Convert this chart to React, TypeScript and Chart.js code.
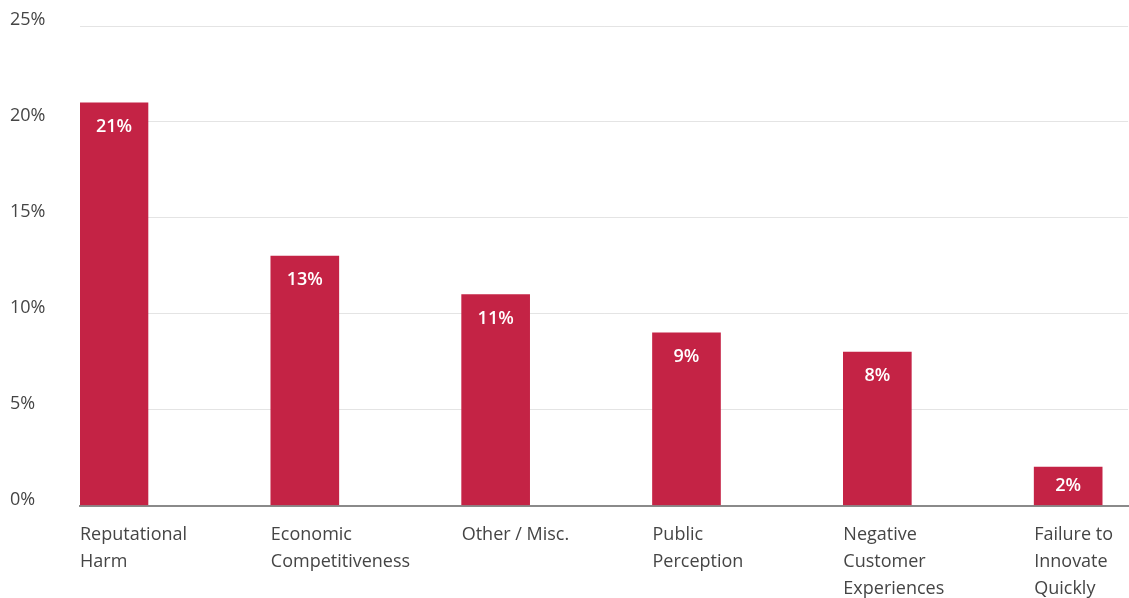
import React, { useEffect, useRef } from "react";
import { Chart, registerables } from "chart.js";

Chart.register(...registerables);

const categories: string[][] = [
  ["Reputational", "Harm"],
  ["Economic", "Competitiveness"],
  ["Other / Misc."],
  ["Public", "Perception"],
  ["Negative", "Customer", "Experiences"],
  ["Failure to", "Innovate", "Quickly"],
];
const values: number[] = [21, 13, 11, 9, 8, 2];
const yTicks: number[] = [0, 5, 10, 15, 20, 25];

const BAR_COLOR = "#C42345";
const FONT = "'Open Sans', 'Noto Sans', sans-serif";
const SLOT = 191; // px per category
const BAR_W = 68;

const valueLabels = {
  id: "valueLabels",
  afterDatasetsDraw(chart: any) {
    const ctx = chart.ctx;
    const meta = chart.getDatasetMeta(0);
    ctx.save();
    ctx.fillStyle = "#ffffff";
    ctx.font = `600 18px ${FONT}`;
    ctx.textAlign = "center";
    ctx.textBaseline = "middle";
    meta.data.forEach((bar: any, i: number) => {
      const top = bar.y;
      const bottom = bar.base;
      const y = Math.min(top + 24, (top + bottom) / 2);
      ctx.fillText(`${values[i]}%`, bar.x, y);
    });
    ctx.restore();
  },
};

export default function App() {
  const ref = useRef<HTMLCanvasElement>(null);
  useEffect(() => {
    if (!ref.current) return;
    const plotW = 1129 - 80;
    const xMax = plotW / SLOT;
    const shift = BAR_W / 2 / SLOT;
    const chart = new Chart(ref.current, {
      type: "bar",
      data: {
        datasets: [
          {
            data: values.map((v, i) => ({ x: i, y: v })),
            backgroundColor: BAR_COLOR,
            barThickness: BAR_W,
            xAxisID: "xb",
            yAxisID: "y",
          },
        ],
      },
      options: {
        animation: false,
        responsive: false,
        maintainAspectRatio: false,
        layout: { padding: { left: 10, top: 26, right: 0, bottom: 0 } },
        plugins: {
          legend: { display: false },
          tooltip: { enabled: false },
        },
        scales: {
          x: {
            type: "linear",
            position: "bottom",
            offset: false,
            min: 0,
            max: xMax,
            afterFit: (s: any) => {
              s.height = 598 - 505.5;
            },
            grid: { display: false, drawTicks: false, offset: false },
            border: { display: true, color: "#8a8a8a", width: 2 },
            ticks: {
              stepSize: 1,
              includeBounds: false,
              autoSkip: false,
              maxRotation: 0,
              align: "start",
              padding: 16,
              color: "#454545",
              font: { family: FONT, size: 18, lineHeight: 1.5 },
              callback: (v: any) => categories[v as number] ?? "",
            },
          },
          xb: {
            type: "linear",
            display: false,
            offset: false,
            grid: { offset: false },
            min: -shift,
            max: xMax - shift,
          },
          y: {
            min: 0,
            max: 25,
            afterFit: (s: any) => {
              s.width = 70;
            },
            afterBuildTicks: (s: any) => {
              s.ticks = yTicks.map((v) => ({ value: v }));
            },
            grid: { color: "#e4e4e4", lineWidth: 1, drawTicks: false },
            border: { display: false },
            ticks: {
              crossAlign: "far",
              labelOffset: -6,
              padding: 0,
              color: "#454545",
              font: { family: FONT, size: 18 },
              callback: (v: any) => `${v}%`,
            },
          },
        },
      },
      plugins: [valueLabels],
    });
    return () => chart.destroy();
  }, []);
  return (
    <div style={{ position: "absolute", left: 0, top: 0, width: 1129, height: 598 }}>
      <canvas ref={ref} width={1129} height={598} style={{ width: 1129, height: 598 }} />
    </div>
  );
}
